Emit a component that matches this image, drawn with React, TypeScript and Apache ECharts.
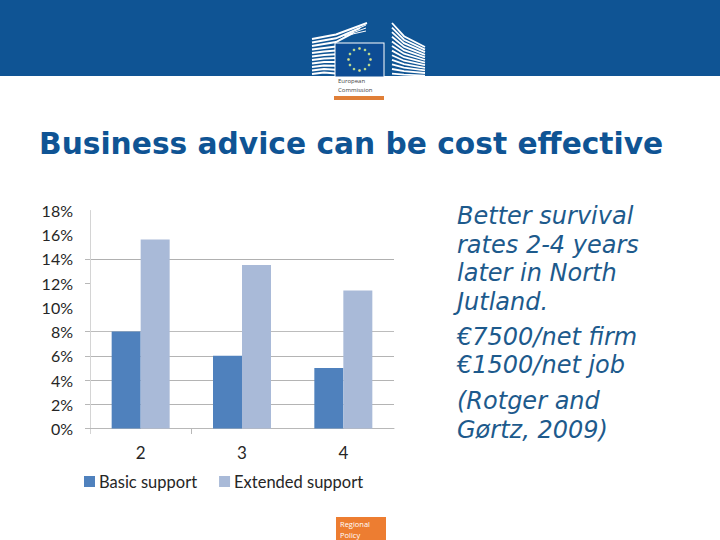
import React, { useEffect, useRef } from "react";
import * as echarts from "echarts";

const categories = ["2", "3", "4"];
const basicSupport = [8, 6, 5];
const extendedSupport = [15.6, 13.5, 11.4];
const tickedValues = [0, 2, 4, 6, 8, 12, 14];
const gridColors = ["#b4b4b4", "#b4b4b4", "#b4b4b4", "#b4b4b4", "#bcbcbc", "rgba(0,0,0,0)", "#b0b0b0", "#bcbcbc", "rgba(0,0,0,0)", "#f6f6f6"];
const bodyLines: [string, number][] = [
  ["Better survival", 216],
  ["rates 2-4 years", 245],
  ["later in North", 273],
  ["Jutland.", 302],
  ["€7500/net firm", 337],
  ["€1500/net job", 365],
  ["(Rotger and", 401],
  ["Gørtz, 2009)", 430],
];

const BLUE = "#0f5494";

function logo(): any[] {
  const out: any[] = [];
  const white = { stroke: "#ffffff", fill: "none", lineWidth: 2 };
  // left building: lower stripes run to the flag, upper stripes fan up to the peak
  for (let i = 0; i < 11; i++) {
    const y0 = 39 + i * 3.5;
    const reach = i < 3 ? 367 - i * 7 : 336;
    const yEnd = i < 3 ? 23 + i * 5 : y0 - 4 + i * 0.35;
    const mid = i < 3 ? [336, y0 - 4.5 + i * 0.3] : [324, y0 - 1.5];
    out.push({ type: "polyline", shape: { points: [[312, y0], mid, [reach, yEnd]] }, style: white, silent: true });
  }
  for (let i = 0; i < 3; i++) {
    out.push({ type: "line", shape: { x1: 340 + i * 4, y1: 37 - i * 1, x2: 366, y2: 25 + i * 3 }, style: { stroke: "#ffffff", lineWidth: 1 }, silent: true });
  }
  // right building
  for (let i = 0; i < 12; i++) {
    const y0 = 23 + i * 4.6;
    const yEnd = 47 + i * 2.6;
    out.push({ type: "polyline", shape: { points: [[392, y0], [404, y0 + (yEnd - y0) * 0.55], [425, yEnd]] }, style: { stroke: "#ffffff", fill: "none", lineWidth: 1.8 }, silent: true });
  }
  out.push({ type: "rect", shape: { x: 334.5, y: 42.5, width: 50, height: 34 }, style: { fill: "#ffffff" }, silent: true });
  out.push({ type: "rect", shape: { x: 335.5, y: 43.5, width: 48, height: 33 }, style: { fill: "#0d4c94" }, silent: true });
  for (let i = 0; i < 12; i++) {
    const a = (i * Math.PI) / 6;
    out.push({
      type: "circle",
      shape: { cx: 359.5 + 11 * Math.cos(a), cy: 59.5 + 11 * Math.sin(a), r: 1.3 },
      style: { fill: i % 3 === 0 ? "#dfe58a" : "#b9d98e" },
      silent: true,
    });
  }
  return out;
}

export default function App() {
  const ref = useRef<HTMLDivElement>(null);
  useEffect(() => {
    const chart = echarts.init(ref.current!, undefined, { renderer: "svg" });
    const labelFont = "Lato";
    chart.setOption({
      animation: false,
      backgroundColor: "#ffffff",
      grid: { left: 90, right: 326, top: 210.5, height: 218 },
      xAxis: {
        type: "category",
        data: categories,
        axisLine: { lineStyle: { color: "#b8b8b8" } },
        axisTick: { show: false },
        axisLabel: { margin: 15, fontFamily: labelFont, fontSize: 17, color: "#262626" },
      },
      yAxis: {
        type: "value",
        min: 0,
        max: 18,
        interval: 2,
        axisLine: { show: true, lineStyle: { color: "#d4d4d4" } },
        axisTick: { show: true, length: 5, customValues: tickedValues, lineStyle: { color: "#b8b8b8" } },
        axisLabel: { margin: 17, fontFamily: labelFont, fontSize: 16, color: "#262626", formatter: "{value}%" },
        splitLine: { show: true, lineStyle: { color: gridColors, width: 1 } },
      },
      legend: {
        left: 79,
        top: 468,
        itemWidth: 11,
        itemHeight: 11,
        itemGap: 22,
        icon: "rect",
        textStyle: { fontFamily: labelFont, fontSize: 16.5, color: "#262626", padding: [0, 0, 0, -1] },
        data: ["Basic support", "Extended support"],
      },
      series: [
        { name: "Basic support", type: "bar", data: basicSupport, barWidth: 29, barGap: "0%", itemStyle: { color: "#4f81bd" } },
        { name: "Extended support", type: "bar", data: extendedSupport, barWidth: 29, barGap: "0%", itemStyle: { color: "#a9bad8" } },
      ],
      graphic: [
        { type: "rect", silent: true, shape: { x: 0, y: 0, width: 720, height: 76 }, style: { fill: BLUE } },
        ...logo(),
        { type: "text", silent: true, x: 338, y: 78, style: { text: "European", fontFamily: "Open Sans", fontSize: 6, fill: "#444444" } },
        { type: "text", silent: true, x: 338, y: 87, style: { text: "Commission", fontFamily: "Open Sans", fontSize: 6, fill: "#444444" } },
        { type: "rect", silent: true, shape: { x: 334, y: 96, width: 50, height: 4 }, style: { fill: "#e07f37" } },
        { type: "line", silent: true, shape: { x1: 90.5, y1: 428, x2: 90.5, y2: 434 }, style: { stroke: "#d4d4d4", lineWidth: 1 } },
        { type: "line", silent: true, shape: { x1: 191.5, y1: 428, x2: 191.5, y2: 434 }, style: { stroke: "#b8b8b8", lineWidth: 1 } },
        {
          type: "text", silent: true, x: 39, y: 143.5,
          style: { text: "Business advice can be cost effective", fontFamily: "DejaVu Sans", fontWeight: "bold", fontSize: 29.7, fill: BLUE, verticalAlign: "middle" },
        },
        ...bodyLines.map(([text, y]) => ({
          type: "text", silent: true, x: 457, y,
          style: { text, fontFamily: "DejaVu Sans", fontStyle: "italic", fontSize: 24, fill: "#1d5a8c", verticalAlign: "middle" },
        })),
        { type: "rect", silent: true, shape: { x: 336, y: 517, width: 50, height: 23 }, style: { fill: "#ed7d31" } },
        { type: "text", silent: true, x: 340, y: 520, style: { text: "Regional", fontFamily: "Open Sans", fontSize: 7.5, fill: "#ffffff" } },
        { type: "text", silent: true, x: 340, y: 531, style: { text: "Policy", fontFamily: "Open Sans", fontSize: 7.5, fill: "#ffffff" } },
      ],
    });
    return () => chart.dispose();
  }, []);
  return <div ref={ref} style={{ position: "absolute", left: 0, top: 0, width: 720, height: 540 }} />;
}
